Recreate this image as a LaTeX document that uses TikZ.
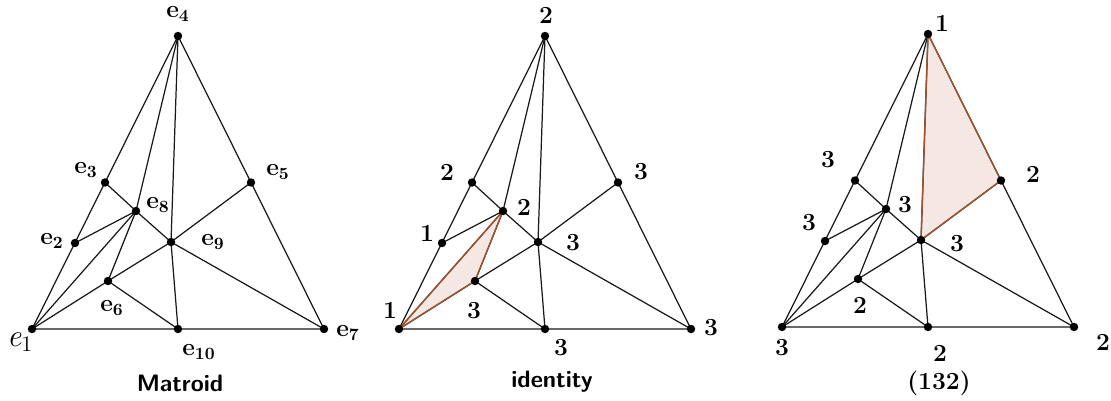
\documentclass[tikz,border=0pt]{standalone}
\usepackage{fontspec}
\usepackage{tikz}
\definecolor{brownedge}{RGB}{160,82,45}
\definecolor{pinkfill}{RGB}{245,231,227}
\newcommand{\ee}[1]{\textbf{e}\textsubscript{\textbf{#1}}}
\tikzset{
  edge/.style={draw=black!90, line width=0.7pt},
  hl/.style={draw=brownedge, line width=0.8pt},
  lbl/.style={font=\fontsize{14}{16}\selectfont\bfseries},
  title/.style={font=\fontsize{13.5}{15}\selectfont\sffamily\bfseries},
}
\begin{document}
\begin{tikzpicture}[x=0.02cm, y=-0.02cm]
	\useasboundingbox (0,0) rectangle (1111,400);
	% the same ten points in each of the three triangles
	\foreach \p/\ox/\oy in {a/32/329, b/399/329, c/782/327}{
		\begin{scope}[shift={(\ox,\oy)}]
			\coordinate (\p1) at (0,0);
			\coordinate (\p2) at (43,-86);
			\coordinate (\p3) at (73,-146.5);
			\coordinate (\p4) at (146,-293);
			\coordinate (\p5) at (219,-146.5);
			\coordinate (\p6) at (76,-48);
			\coordinate (\p7) at (292,0);
			\coordinate (\p8) at (104,-118);
			\coordinate (\p9) at (139,-87);
			\coordinate (\p10) at (146,0);
		\end{scope}
	}
	\fill[pinkfill] (b1) -- (b6) -- (b8) -- cycle;
	\fill[pinkfill] (c4) -- (c5) -- (c9) -- cycle;
	\foreach \p in {a,b,c}{
		\draw[edge] (\p1) -- (\p4) -- (\p7) -- cycle;
		\draw[edge] (\p3) -- (\p8) -- (\p9) -- (\p7);
		\draw[edge] (\p2) -- (\p8) -- (\p1);
		\draw[edge] (\p4) -- (\p8) -- (\p6);
		\draw[edge] (\p4) -- (\p9) -- (\p10);
		\draw[edge] (\p1) -- (\p6) -- (\p9) -- (\p5);
		\draw[edge] (\p6) -- (\p10);
	}
	\draw[hl] (b1) -- (b6) -- (b8) -- cycle;
	\draw[hl] (c4) -- (c5) -- (c9) -- cycle;
	\foreach \p in {a,b,c}
		\foreach \i in {1,...,10}
			\fill (\p\i) circle (2.4pt);
	% Matroid
	\node[lbl] (la4) at (178,14) {\ee{4}};
	\node[lbl] (la3) at (86,170) {\ee{3}};
	\node[lbl] (la5) at (278,172) {\ee{5}};
	\node[lbl] (la8) at (158,205) {\ee{8}};
	\node[lbl] (la2) at (52,241) {\ee{2}};
	\node[lbl] (la9) at (213,242) {\ee{9}};
	\node[lbl] (la6) at (112,308) {\ee{6}};
	\node[font=\fontsize{18}{20}\selectfont\itshape] (la1) at (20,342) {e\textsubscript{\upshape 1}};
	\node[lbl] (la10) at (199,352) {\ee{10}};
	\node[lbl] (la7) at (348,333) {\ee{7}};
	\node[title] (tta) at (180,383) {Matroid};
	% identity
	\foreach \x/\y/\t [count=\k] in {546/15/2, 447/172/2, 524/207/2, 427/233/1,
		573/243/3, 474/311/3, 390/310/1, 561/348/3, 711/328/3, 641/172/3}
		\node[lbl] (lb\k) at (\x,\y) {\t};
	\node[title] (ttb) at (552,382) {identity};
	% (132)
	\foreach \x/\y/\t [count=\k] in {942/23/1, 828/160/3, 1033/174/2, 905/205/3,
		809/223/3, 957/244/3, 860/305/2, 782/348/3, 940/353/2, 1103/342/2}
		\node[lbl] (lc\k) at (\x,\y) {\t};
	\node[lbl] (ttc) at (939,383) {(132)};
\end{tikzpicture}
\end{document}
